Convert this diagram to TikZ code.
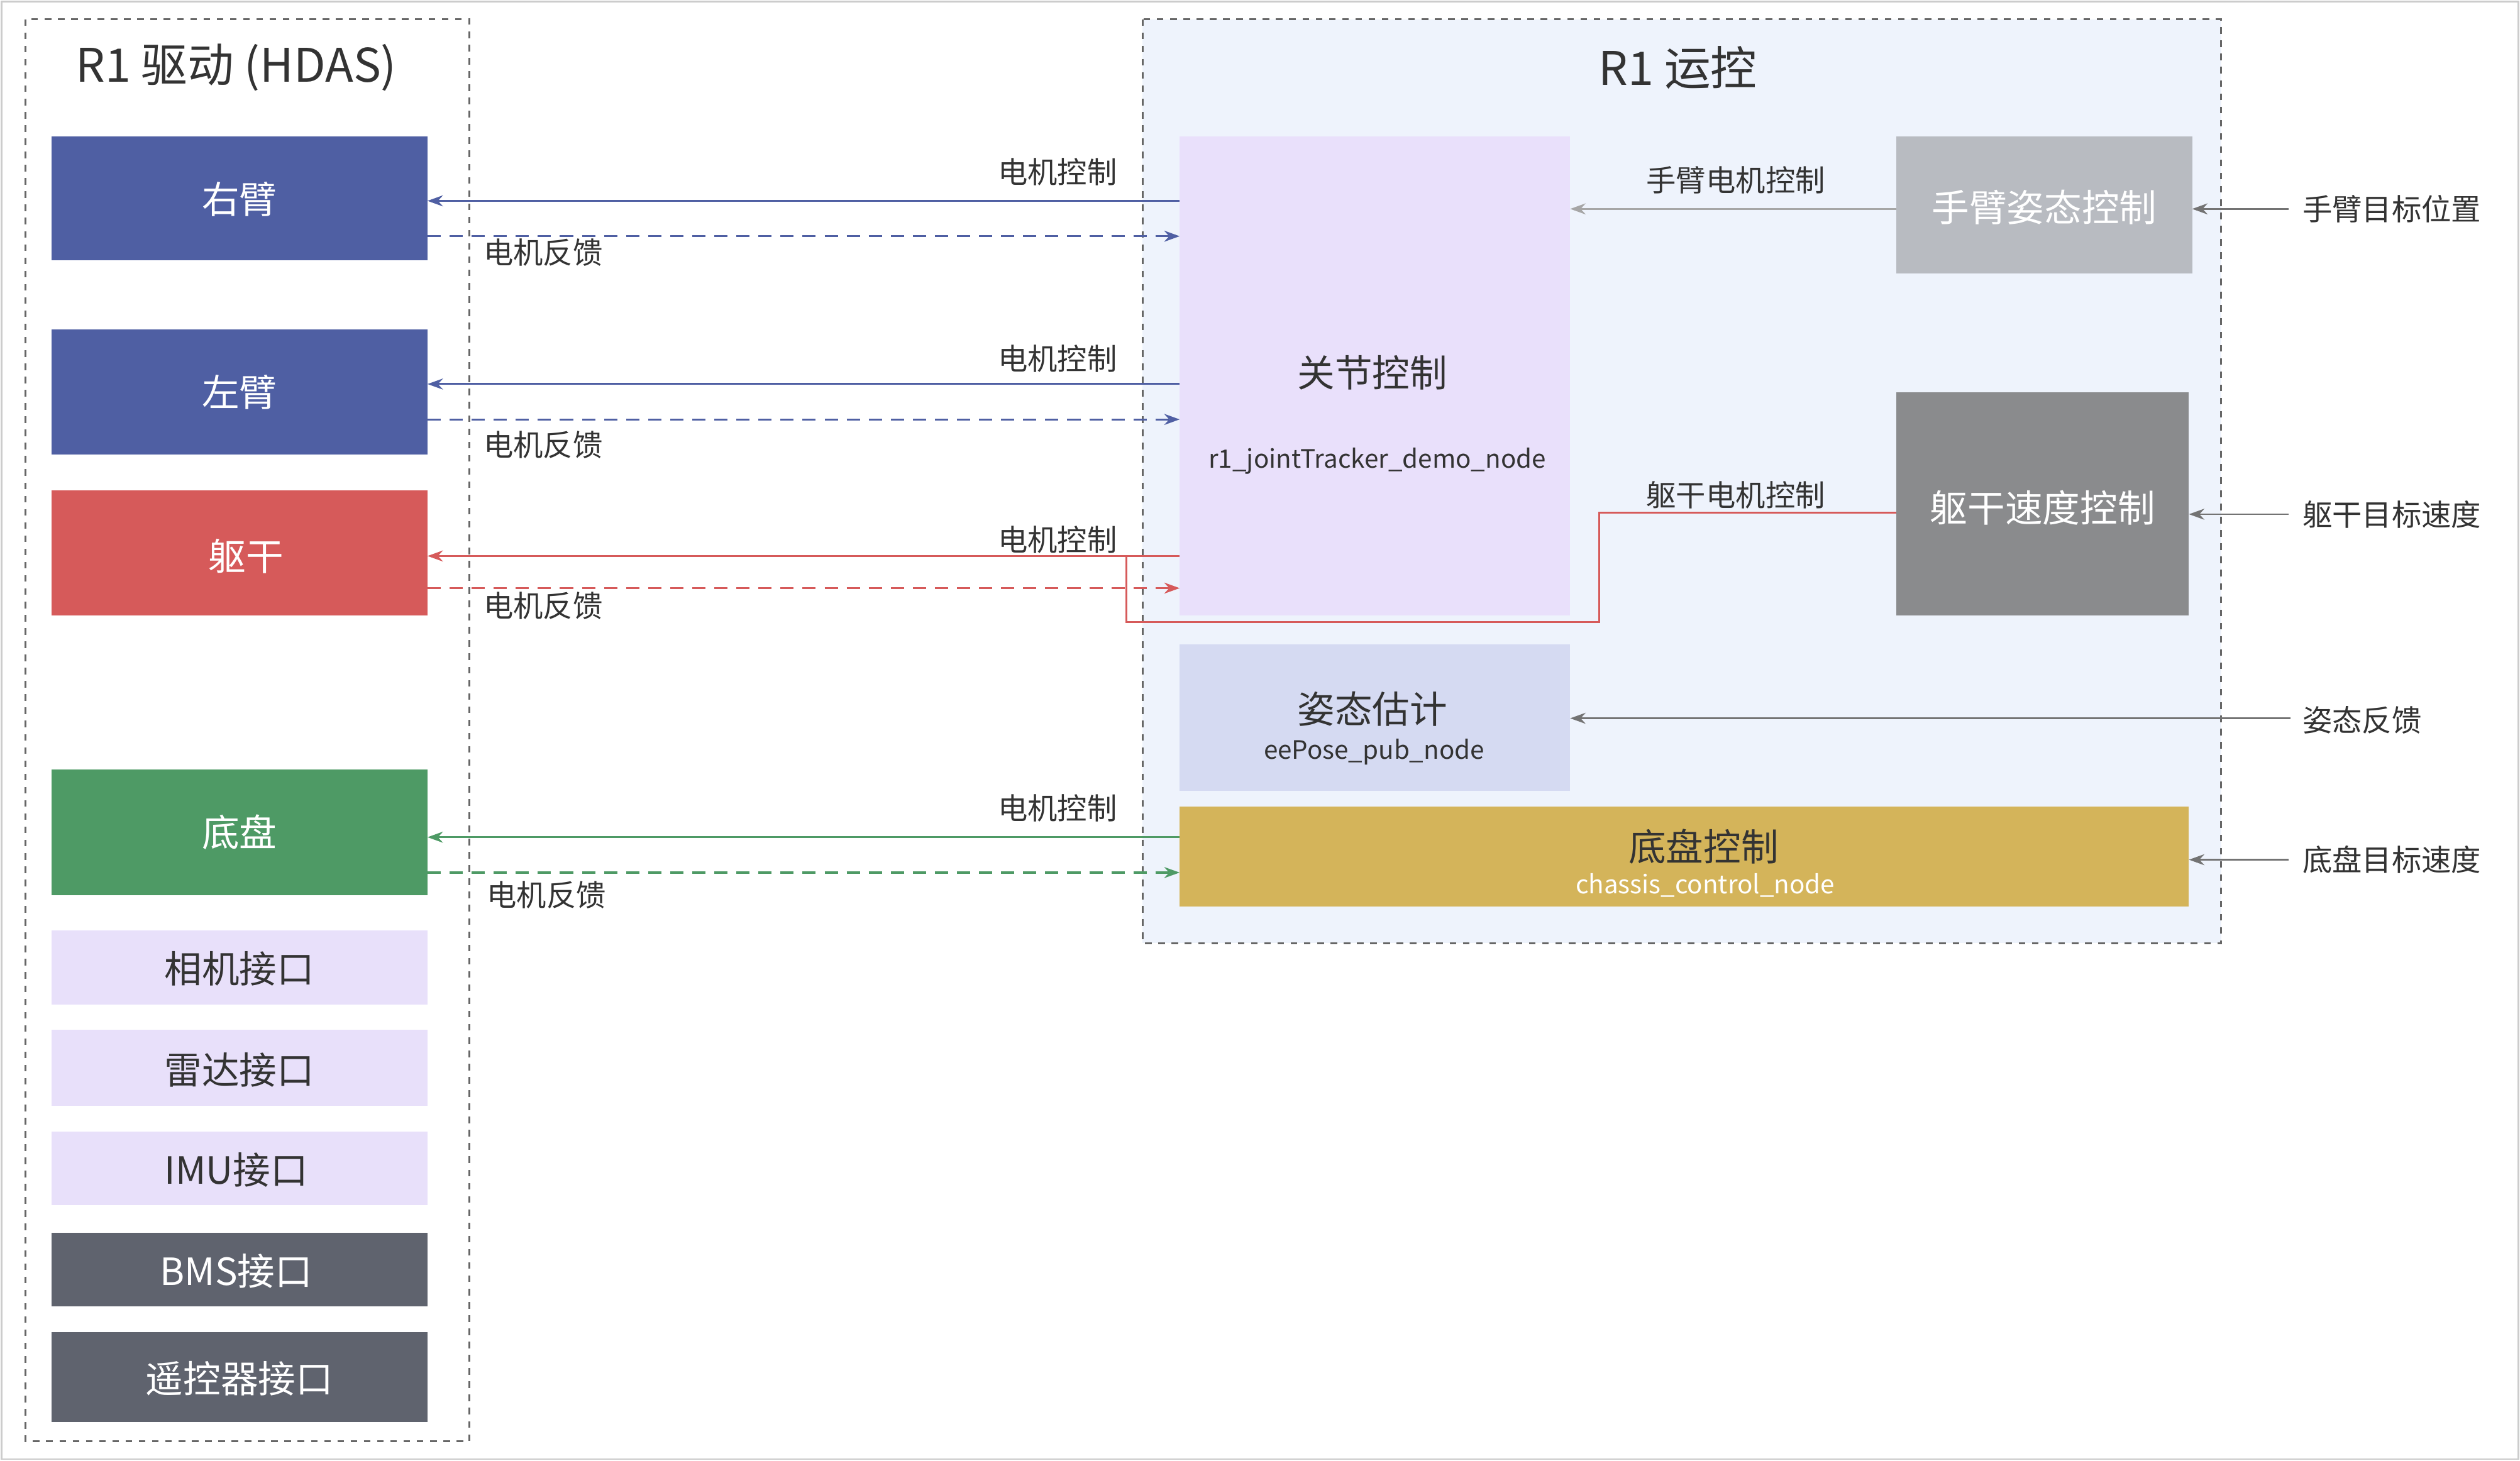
\documentclass[tikz,border=0pt]{standalone}
\usepackage{fontspec}
\setmainfont{Noto Sans CJK SC}
\usetikzlibrary{arrows.meta}
\definecolor{cblue}{HTML}{4F5FA3}
\definecolor{cred}{HTML}{D65A5A}
\definecolor{cgreen}{HTML}{4E9A65}
\definecolor{clav}{HTML}{E8E0FA}
\definecolor{cdark}{HTML}{5F636E}
\definecolor{cbg}{HTML}{EEF3FC}
\definecolor{cjoint}{HTML}{E9E0FB}
\definecolor{cpose}{HTML}{D5DAF2}
\definecolor{cgold}{HTML}{D4B45A}
\definecolor{cgl}{HTML}{B8BBC1}
\definecolor{cgm}{HTML}{8A8B8D}
\definecolor{ctxt}{HTML}{333333}
\begin{document}
\begin{tikzpicture}[x=0.0256cm,y=-0.0256cm,
  box/.style={draw=none,inner sep=0pt,font=\fontsize{17}{20}\selectfont},
  lbl/.style={font=\fontsize{13.5}{16}\selectfont,text=ctxt,inner sep=1pt},
  arr/.style={-{Stealth[length=7pt,width=5pt]},line width=0.9pt},
  darr/.style={arr,dashed,dash pattern=on 6pt off 4pt}]
\useasboundingbox (0,0) rectangle (1568,909);
\draw[gray!40,line width=0.8pt] (1,1) rectangle (1567,908);
\draw[gray!80!black,dashed,line width=0.9pt] (16,12) rectangle (292,897);
\draw[gray!80!black,dashed,line width=0.9pt,fill=cbg] (711,12) rectangle (1382,587);
\node[font=\fontsize{21}{24}\selectfont,text=ctxt] (t1) at (147,42) {R1 驱动 (HDAS)};
\node[font=\fontsize{21}{24}\selectfont,text=ctxt] (t2) at (1044,42) {R1 运控};
% left boxes
\node[box,fill=cblue,text=white,minimum width=234\pgflinewidth] (ra) at (149,123.5) {};
\fill[cblue] (32,85) rectangle (266,162); \node[box,text=white] (rat) at (149,124) {右臂};
\fill[cblue] (32,205) rectangle (266,283); \node[box,text=white] (la) at (149,244) {左臂};
\fill[cred] (32,305) rectangle (266,383); \node[box,text=white] (tr) at (153,346) {躯干};
\fill[cgreen] (32,479) rectangle (266,557); \node[box,text=white] (ch) at (149,518) {底盘};
\fill[clav] (32,579) rectangle (266,625); \node[box,text=ctxt] (cam) at (149,603) {相机接口};
\fill[clav] (32,641) rectangle (266,688); \node[box,text=ctxt] (lid) at (149,666) {雷达接口};
\fill[clav] (32,704) rectangle (266,750); \node[box,text=ctxt] (imu) at (147,728) {IMU接口};
\fill[cdark] (32,767) rectangle (266,813); \node[box,text=white] (bms) at (147,791) {BMS接口};
\fill[cdark] (32,829) rectangle (266,885); \node[box,text=white] (rc) at (149,858) {遥控器接口};
% right nodes
\fill[cjoint] (734,85) rectangle (977,383);
\node[box,text=ctxt] (jc) at (854,232) {关节控制};
\node[lbl,font=\fontsize{11.5}{14}\selectfont] (jcn) at (857,287) {r1\_jointTracker\_demo\_node};
\fill[cgl] (1180,85) rectangle (1364,170); \node[box,text=white] (ap) at (1272,129) {手臂姿态控制};
\fill[cgm] (1180,244) rectangle (1362,383); \node[box,text=white] (ts) at (1271,316) {躯干速度控制};
\fill[cpose] (734,401) rectangle (977,492);
\node[box,text=ctxt] (pe) at (854,441) {姿态估计};
\node[lbl,font=\fontsize{11.5}{14}\selectfont] (pen) at (855,468) {eePose\_pub\_node};
\fill[cgold] (734,502) rectangle (1362,564);
\node[box,text=ctxt] (cc) at (1060,527) {底盘控制};
\node[lbl,font=\fontsize{11.5}{14}\selectfont,text=white] (ccn) at (1061,551) {chassis\_control\_node};
% coordinates
\coordinate (j1) at (734,125); \coordinate (l1) at (266,125);
\coordinate (j1d) at (734,147); \coordinate (l1d) at (266,147);
\coordinate (j2) at (734,239); \coordinate (l2) at (266,239);
\coordinate (j2d) at (734,261); \coordinate (l2d) at (266,261);
\coordinate (j3) at (734,346); \coordinate (l3) at (266,346);
\coordinate (j3d) at (734,366); \coordinate (l3d) at (266,366);
\coordinate (j4) at (734,521); \coordinate (l4) at (266,521);
\coordinate (j4d) at (734,543); \coordinate (l4d) at (266,543);
\draw[arr,cblue] (j1) -- (l1); \draw[darr,cblue] (l1d) -- (j1d);
\draw[arr,cblue] (j2) -- (l2); \draw[darr,cblue] (l2d) -- (j2d);
\draw[arr,cred] (j3) -- (l3); \draw[darr,cred] (l3d) -- (j3d);
\draw[arr,cgreen] (j4) -- (l4); \draw[darr,cgreen] (l4d) -- (j4d);
\coordinate (tsl) at (1180,319);
\draw[cred,line width=0.9pt] (tsl) -- (995,319) -- (995,387) -- (701,387) -- (701,346);
\foreach \y/\t in {107/电机控制,223/电机控制,336/电机控制,503/电机控制}
  \node[lbl] at (658,\y) {\t};
\foreach \y in {157,277,377}
  \node[lbl] at (338,\y) {电机反馈};
\node[lbl] at (340,557) {电机反馈};
\coordinate (apl) at (1180,130); \coordinate (jcr) at (977,130);
\draw[arr,gray!70,line width=0.8pt] (apl) -- (jcr);
\node[lbl] at (1080,112) {手臂电机控制};
\node[lbl] at (1080,308) {躯干电机控制};
\coordinate (pf) at (1425,447); \coordinate (per) at (977,447);
\draw[arr,gray!90!black,line width=0.8pt] (pf) -- (per);
\node[lbl,anchor=west] (pft) at (1431,448) {姿态反馈};
\node[lbl,anchor=west] (e1) at (1431,130) {手臂目标位置};
\node[lbl,anchor=west] (e2) at (1431,320) {躯干目标速度};
\node[lbl,anchor=west] (e3) at (1431,535) {底盘目标速度};
\coordinate (s1) at (1424,130); \coordinate (d1) at (1364,130);
\coordinate (s2) at (1424,320); \coordinate (d2) at (1362,320);
\coordinate (s3) at (1424,535); \coordinate (d3) at (1362,535);
\draw[arr,gray!90!black,line width=0.8pt] (s1) -- (d1);
\draw[arr,gray!90!black,line width=0.8pt] (s2) -- (d2);
\draw[arr,gray!90!black,line width=0.8pt] (s3) -- (d3);
\end{tikzpicture}
\end{document}
